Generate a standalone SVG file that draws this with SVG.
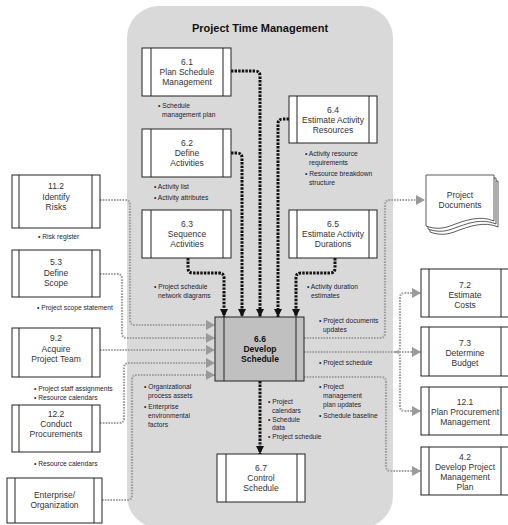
<svg xmlns="http://www.w3.org/2000/svg" width="508" height="525" viewBox="0 0 508 525">
<style>
.box{fill:#fff;stroke:#222;stroke-width:1}
.bar{stroke:#222;stroke-width:1}
.bt{font-family:"Liberation Sans",Arial,sans-serif;font-size:8.5px;fill:#333;text-anchor:middle}
.bb{font-family:"Liberation Sans",Arial,sans-serif;font-size:8.5px;font-weight:bold;fill:#111;text-anchor:middle}
.lb{font-family:"Liberation Sans",Arial,sans-serif;font-size:7.6px;fill:#1c1c30}
.title{font-family:"Liberation Sans",Arial,sans-serif;font-size:11px;font-weight:bold;fill:#111;text-anchor:middle}
.gl{fill:none;stroke:#a0a0a0;stroke-width:2.2;stroke-dasharray:1.6 1.2}
.bl{fill:none;stroke:#111;stroke-width:3;stroke-dasharray:2.4 1.2}
.sheet{fill:#fff;stroke:#333;stroke-width:0.8}
</style>
<defs>
<marker id="ga" markerWidth="10" markerHeight="10" refX="9" refY="5" orient="auto" markerUnits="userSpaceOnUse"><path d="M0,0 L9,5 L0,10 z" fill="#9a9a9a"/></marker>
<marker id="ba" markerWidth="9" markerHeight="9" refX="8" refY="4" orient="auto" markerUnits="userSpaceOnUse"><path d="M0,0 L8,4 L0,8 z" fill="#111"/></marker>
</defs>
<rect x="127" y="6" width="266" height="522" rx="32" ry="32" fill="#d9d9d9"/>
<text class="title" x="260" y="32">Project Time Management</text>

<g id="connectors">
<path class="bl" d="M231,71 H255 Q260,71 260,76 V317" marker-end="url(#ba)"/>
<path class="bl" d="M231,153 H237 Q242,153 242,158 V317" marker-end="url(#ba)"/>
<path class="bl" d="M289,119 H283 Q278,119 278,124 V317" marker-end="url(#ba)"/>
<path class="bl" d="M188,258 V268 Q188,273 193,273 H219 Q224,273 224,278 V317" marker-end="url(#ba)"/>
<path class="bl" d="M335,258 V268 Q335,273 330,273 H301 Q296,273 296,278 V317" marker-end="url(#ba)"/>
<path class="bl" d="M260,381 V454" marker-end="url(#ba)"/>
<path class="gl" d="M100,200 H125 Q130,200 130,205 V320 Q130,325 135,325 H215" marker-end="url(#ga)"/>
<path class="gl" d="M100,274 H117 Q122,274 122,279 V333 Q122,338 127,338 H215" marker-end="url(#ga)"/>
<path class="gl" d="M100,350 H215" marker-end="url(#ga)"/>
<path class="gl" d="M100,423 H119 Q124,423 124,418 V368 Q124,363 129,363 H215" marker-end="url(#ga)"/>
<path class="gl" d="M102,500 H127 Q132,500 132,495 V380 Q132,375 137,375 H215" marker-end="url(#ga)"/>
<path class="gl" d="M304,338 H380 Q385,338 385,333 V205 Q385,200 390,200 H425" marker-end="url(#ga)"/>
<path class="gl" d="M304,352 H421" marker-end="url(#ga)"/>
<path class="gl" d="M395,352 Q400,352 400,347 V298 Q400,293 405,293 H421" marker-end="url(#ga)"/>
<path class="gl" d="M395,352 Q400,352 400,357 V406 Q400,411 405,411 H421" marker-end="url(#ga)"/>
<path class="gl" d="M304,377 H381 Q386,377 386,382 V466 Q386,471 391,471 H421" marker-end="url(#ga)"/>
</g>

<g id="n61"><rect class="box" x="142" y="48" width="89" height="48"/><line class="bar" x1="151" y1="48" x2="151" y2="96"/><line class="bar" x1="223" y1="48" x2="223" y2="96"/>
<text class="bt" x="187" y="65">6.1</text><text class="bt" x="187" y="75">Plan Schedule</text><text class="bt" x="187" y="85">Management</text></g>
<g id="n62"><rect class="box" x="142" y="129" width="89" height="48"/><line class="bar" x1="151" y1="129" x2="151" y2="177"/><line class="bar" x1="223" y1="129" x2="223" y2="177"/>
<text class="bt" x="187" y="146">6.2</text><text class="bt" x="187" y="156">Define</text><text class="bt" x="187" y="166">Activities</text></g>
<g id="n63"><rect class="box" x="142" y="210" width="89" height="48"/><line class="bar" x1="151" y1="210" x2="151" y2="258"/><line class="bar" x1="223" y1="210" x2="223" y2="258"/>
<text class="bt" x="187" y="227">6.3</text><text class="bt" x="187" y="237">Sequence</text><text class="bt" x="187" y="247">Activities</text></g>
<g id="n64"><rect class="box" x="289" y="96" width="88" height="47"/><line class="bar" x1="297" y1="96" x2="297" y2="143"/><line class="bar" x1="369" y1="96" x2="369" y2="143"/>
<text class="bt" x="333" y="113">6.4</text><text class="bt" x="333" y="123">Estimate Activity</text><text class="bt" x="333" y="133">Resources</text></g>
<g id="n65"><rect class="box" x="289" y="210" width="88" height="48"/><line class="bar" x1="297" y1="210" x2="297" y2="258"/><line class="bar" x1="369" y1="210" x2="369" y2="258"/>
<text class="bt" x="333" y="227">6.5</text><text class="bt" x="333" y="237">Estimate Activity</text><text class="bt" x="333" y="247">Durations</text></g>
<g id="n66"><rect x="215" y="317" width="89" height="64" fill="#c0c0c0" stroke="#222" stroke-width="1"/><line class="bar" x1="224" y1="317" x2="224" y2="381"/><line class="bar" x1="296" y1="317" x2="296" y2="381"/>
<text class="bb" x="260" y="342">6.6</text><text class="bb" x="260" y="352">Develop</text><text class="bb" x="260" y="362">Schedule</text></g>
<g id="n67"><rect class="box" x="217" y="454" width="88" height="48"/><line class="bar" x1="226" y1="454" x2="226" y2="502"/><line class="bar" x1="297" y1="454" x2="297" y2="502"/>
<text class="bt" x="261" y="471">6.7</text><text class="bt" x="261" y="481">Control</text><text class="bt" x="261" y="491">Schedule</text></g>

<g id="n112"><rect class="box" x="12" y="175" width="88" height="53"/><line class="bar" x1="19" y1="175" x2="19" y2="228"/><line class="bar" x1="92" y1="175" x2="92" y2="228"/>
<text class="bt" x="56" y="189">11.2</text><text class="bt" x="56" y="199.5">Identify</text><text class="bt" x="56" y="210">Risks</text></g>
<g id="n53"><rect class="box" x="12" y="250" width="88" height="47"/><line class="bar" x1="19" y1="250" x2="19" y2="297"/><line class="bar" x1="92" y1="250" x2="92" y2="297"/>
<text class="bt" x="56" y="265">5.3</text><text class="bt" x="56" y="276">Define</text><text class="bt" x="56" y="286">Scope</text></g>
<g id="n92"><rect class="box" x="12" y="328" width="88" height="49"/><line class="bar" x1="19" y1="328" x2="19" y2="377"/><line class="bar" x1="92" y1="328" x2="92" y2="377"/>
<text class="bt" x="56" y="341">9.2</text><text class="bt" x="56" y="352">Acquire</text><text class="bt" x="56" y="362">Project Team</text></g>
<g id="n122"><rect class="box" x="12" y="405" width="88" height="47"/><line class="bar" x1="19" y1="405" x2="19" y2="452"/><line class="bar" x1="92" y1="405" x2="92" y2="452"/>
<text class="bt" x="56" y="417">12.2</text><text class="bt" x="56" y="427">Conduct</text><text class="bt" x="56" y="437">Procurements</text></g>
<g id="nent"><rect class="box" x="7" y="478" width="95" height="45"/><line class="bar" x1="15" y1="478" x2="15" y2="523"/><line class="bar" x1="94" y1="478" x2="94" y2="523"/>
<text class="bt" x="54.5" y="498">Enterprise/</text><text class="bt" x="54.5" y="508">Organization</text></g>

<g id="ndocs">
<path class="sheet" d="M430,181 H498 V227 C484,221 470,226 454,232 C446,235 438,235 430,232 Z"/>
<path class="sheet" d="M428,178 H496 V224 C482,218 468,223 452,229 C444,232 436,232 428,229 Z"/>
<path class="sheet" d="M426,175 H494 V221 C480,215 466,220 450,226 C442,229 434,229 426,226 Z"/>
<text class="bt" x="460" y="198">Project</text><text class="bt" x="460" y="208">Documents</text></g>
<g id="n72"><rect class="box" x="421" y="269" width="88" height="48"/><line class="bar" x1="429" y1="269" x2="429" y2="317"/><line class="bar" x1="501" y1="269" x2="501" y2="317"/>
<text class="bt" x="465" y="288">7.2</text><text class="bt" x="465" y="298">Estimate</text><text class="bt" x="465" y="308">Costs</text></g>
<g id="n73"><rect class="box" x="421" y="327" width="88" height="49"/><line class="bar" x1="429" y1="327" x2="429" y2="376"/><line class="bar" x1="501" y1="327" x2="501" y2="376"/>
<text class="bt" x="465" y="346">7.3</text><text class="bt" x="465" y="356">Determine</text><text class="bt" x="465" y="366">Budget</text></g>
<g id="n121"><rect class="box" x="421" y="387" width="88" height="48"/><line class="bar" x1="429" y1="387" x2="429" y2="435"/><line class="bar" x1="501" y1="387" x2="501" y2="435"/>
<text class="bt" x="465" y="405">12.1</text><text class="bt" x="465" y="415">Plan Procurement</text><text class="bt" x="465" y="425">Management</text></g>
<g id="n42"><rect class="box" x="421" y="447" width="88" height="48"/><line class="bar" x1="429" y1="447" x2="429" y2="495"/><line class="bar" x1="501" y1="447" x2="501" y2="495"/>
<text class="bt" x="465" y="460">4.2</text><text class="bt" x="465" y="470">Develop Project</text><text class="bt" x="465" y="480">Management</text><text class="bt" x="465" y="490">Plan</text></g>

<g id="labels" class="lb">
<text transform="translate(158 108) scale(0.88 1)">• Schedule</text><text transform="translate(162 117) scale(0.88 1)">management plan</text>
<text transform="translate(154 189) scale(0.88 1)">• Activity list</text><text transform="translate(154 200) scale(0.88 1)">• Activity attributes</text>
<text transform="translate(154 289) scale(0.88 1)">• Project schedule</text><text transform="translate(158 298) scale(0.88 1)">network diagrams</text>
<text transform="translate(305 156) scale(0.88 1)">• Activity resource</text><text transform="translate(309 164.5) scale(0.88 1)">requirements</text><text transform="translate(305 176) scale(0.88 1)">• Resource breakdown</text><text transform="translate(309 184.5) scale(0.88 1)">structure</text>
<text transform="translate(307 289) scale(0.88 1)">• Activity duration</text><text transform="translate(311 298) scale(0.88 1)">estimates</text>
<text transform="translate(38 239) scale(0.88 1)">• Risk register</text>
<text transform="translate(37 310) scale(0.88 1)">• Project scope statement</text>
<text transform="translate(34 391) scale(0.88 1)">• Project staff assignments</text><text transform="translate(34 400) scale(0.88 1)">• Resource calendars</text>
<text transform="translate(34 466) scale(0.88 1)">• Resource calendars</text>
<text transform="translate(144 389) scale(0.88 1)">• Organizational</text><text transform="translate(148 398) scale(0.88 1)">process assets</text><text transform="translate(144 409) scale(0.88 1)">• Enterprise</text><text transform="translate(148 418) scale(0.88 1)">environmental</text><text transform="translate(148 427) scale(0.88 1)">factors</text>
<text transform="translate(268 404) scale(0.88 1)">• Project</text><text transform="translate(272 413) scale(0.88 1)">calendars</text><text transform="translate(268 421.5) scale(0.88 1)">• Schedule</text><text transform="translate(272 430) scale(0.88 1)">data</text><text transform="translate(268 439) scale(0.88 1)">• Project schedule</text>
<text transform="translate(319 323) scale(0.88 1)">• Project documents</text><text transform="translate(323 332) scale(0.88 1)">updates</text>
<text transform="translate(319 365) scale(0.88 1)">• Project schedule</text>
<text transform="translate(319 389) scale(0.88 1)">• Project</text><text transform="translate(323 398) scale(0.88 1)">management</text><text transform="translate(323 407) scale(0.88 1)">plan updates</text><text transform="translate(319 418) scale(0.88 1)">• Schedule baseline</text>
</g>
</svg>
